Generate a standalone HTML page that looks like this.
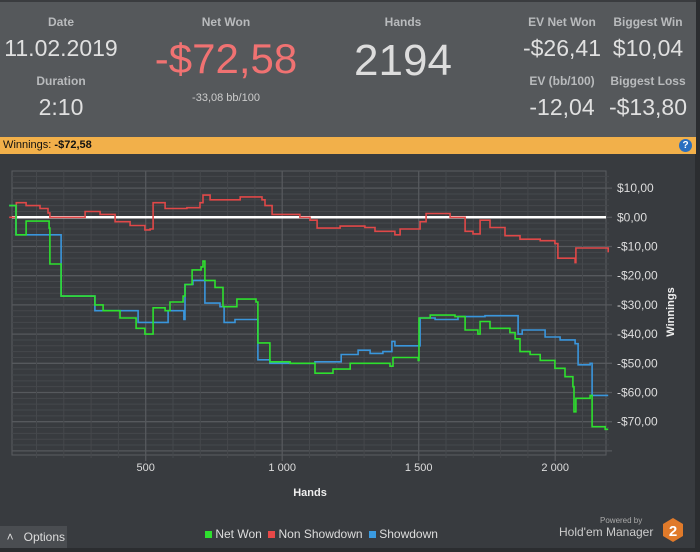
<!DOCTYPE html>
<html><head><meta charset="utf-8">
<style>
body{margin:0;width:700px;height:552px;background:#2b2d30;font-family:"Liberation Sans",sans-serif;overflow:hidden;position:relative}
.hdr{position:absolute;left:0;top:0;width:696px;height:137px;background:#55585b;border-top:2px solid #3a3c3f}
.t{position:absolute;text-align:center;color:#c8c8c8;white-space:nowrap}
.lab{font-size:12px;font-weight:bold;color:#b9bbbd}
.val{font-size:23px;color:#e0e0e0}
.bar{position:absolute;left:0;top:137px;width:696px;height:17px;background:#f2b04a;font-size:11px;color:#111;line-height:17px}
.chart{position:absolute;left:0;top:154px;width:695px;height:394px;background:#383b3f}
</style></head><body>
<div class="hdr">
<div class="t lab" style="left:21px;top:13px;width:80px">Date</div>
<div class="t val" style="left:1px;top:33px;width:120px">11.02.2019</div>
<div class="t lab" style="left:21px;top:72px;width:80px">Duration</div>
<div class="t val" style="left:21px;top:92px;width:80px">2:10</div>
<div class="t lab" style="left:176px;top:13px;width:100px">Net Won</div>
<div class="t" style="left:136px;top:33px;width:180px;font-size:42px;color:#f07272">-$72,58</div>
<div class="t" style="left:176px;top:90px;width:100px;font-size:11px;color:#ccc">-33,08 bb/100</div>
<div class="t lab" style="left:353px;top:13px;width:100px">Hands</div>
<div class="t" style="left:343px;top:34px;width:120px;font-size:44px;color:#ddd">2194</div>
<div class="t lab" style="left:522px;top:13px;width:80px">EV Net Won</div>
<div class="t val" style="left:522px;top:33px;width:80px">-$26,41</div>
<div class="t lab" style="left:608px;top:13px;width:80px">Biggest Win</div>
<div class="t val" style="left:608px;top:33px;width:80px">$10,04</div>
<div class="t lab" style="left:522px;top:72px;width:80px">EV (bb/100)</div>
<div class="t val" style="left:522px;top:92px;width:80px">-12,04</div>
<div class="t lab" style="left:603px;top:72px;width:90px">Biggest Loss</div>
<div class="t val" style="left:603px;top:92px;width:90px">-$13,80</div>
</div>
<div class="bar">&nbsp;Winnings: <b>-$72,58</b>
<span style="position:absolute;right:4px;top:2px;width:13px;height:13px;border-radius:50%;background:#2a6fc0;color:#fff;font-size:10px;line-height:13px;text-align:center;font-weight:bold">?</span></div>
<div class="chart"></div>
<svg id="svg" width="700" height="552" style="position:absolute;left:0;top:0"></svg>
<div style="position:absolute;left:0;top:526px;width:67px;height:22px;background:#4a4d51;color:#ddd;font-size:12px;line-height:22px">&nbsp;&nbsp;˄&nbsp;&nbsp;&nbsp;Options</div>
<div style="position:absolute;left:205px;top:527px;font-size:12px;color:#ddd;white-space:nowrap">
<span><span style="display:inline-block;width:7px;height:7px;background:#2ee02e"></span> Net Won</span>
<span><span style="display:inline-block;width:7px;height:7px;background:#e84848;margin-left:3px"></span> Non Showdown</span>
<span><span style="display:inline-block;width:7px;height:7px;background:#3a9ae0;margin-left:3px"></span> Showdown</span></div>
<div style="position:absolute;left:600px;top:516px;font-size:8px;color:#aaa">Powered by</div>
<div style="position:absolute;left:559px;top:525px;font-size:12px;color:#ccc">Hold'em Manager</div>
<svg style="position:absolute;left:662px;top:517px" width="22" height="26"><polygon points="11,1 21,7 21,19 11,25 1,19 1,7" fill="#e07a2a"/><text x="11" y="19" text-anchor="middle" fill="#fff" font-size="15" font-weight="bold" font-family="Liberation Sans">2</text></svg>
<script>
const yTicks=[10,0,-10,-20,-30,-40,-50,-60,-70];
const xTicks=[500,1000,1500,2000];
const netH=[0,14,25,62,146,149,190,296,314,344,406,465,497,527,571,589,637,644,670,703,710,717,754,783,834,904,911,955,1029,1120,1186,1249,1395,1406,1498,1501,1542,1633,1670,1717,1725,1761,1780,1834,1853,1871,1908,1945,1999,2036,2065,2069,2076,2128,2135,2183,2194];
const netV=[4,4,-6,-1.3,-3.7,-16,-27,-27,-30,-32,-34.5,-38,-40,-31,-32,-29,-27,-23,-18,-17,-15,-21.6,-24,-30.6,-28,-29,-43,-49.5,-50,-53.4,-52,-50,-51,-48,-49,-34.5,-33.5,-34,-38.6,-40,-35.7,-38,-38,-39.5,-41.6,-46,-47,-49,-51.7,-54.6,-58,-66.6,-62,-61,-71.7,-72.6,-72.6];
const sdH=[0,14,25,149,190,281,314,465,472,563,582,637,640,644,673,703,717,772,787,827,904,911,955,1120,1208,1216,1278,1322,1369,1402,1413,1498,1505,1560,1644,1743,1860,1864,1879,1956,1963,2018,2073,2084,2128,2135,2194];
const sdV=[4,4,-6,-6,-27,-27,-32,-32,-36,-36,-32,-32,-35,-23,-21.6,-21.6,-29.4,-30.6,-36,-35,-35,-48.8,-50,-49.5,-49.5,-47,-45.5,-46.6,-46,-42.5,-44,-44,-34.5,-35,-34,-33.7,-33.7,-40,-38.6,-38.6,-41,-42,-43.3,-50.5,-50,-61,-61];
const nsdH=[0,14,26,62,113,142,149,278,333,388,443,497,516,527,571,651,699,710,736,846,926,937,963,1065,1102,1128,1212,1303,1340,1413,1432,1498,1505,1527,1615,1651,1670,1699,1725,1761,1816,1871,1945,1999,2010,2073,2076,2128,2194];
const nsdV=[0,0,5,4,3,1.5,0,2,1,-1.5,-2.8,-4.3,-4,5,3,3.3,5,7.6,6,7,6,4,1,0,-1,-3.7,-3,-3.5,-4.8,-6,-4,-4,-1.5,1.3,0,0,-4.8,-5.7,-1,-3.5,-6.3,-7.5,-8,-9,-14,-15.5,-10.5,-10.5,-12];
const L=12,R=606,T=171,B=455;
const x=h=>9.2+h*0.273;
const y=v=>217.3-v*2.92;
const s=document.getElementById('svg');
const NS='http://www.w3.org/2000/svg';
function mk(tag,a){const e=document.createElementNS(NS,tag);for(const k in a)e.setAttribute(k,a[k]);s.appendChild(e);return e;}
let e=mk('rect',{x:L,y:T,width:R-L,height:B-T,fill:'none',stroke:'#5a5d61','stroke-width':1});


for(let v=-82;v<=14;v+=2){const yy=y(v);if(yy<T||yy>B)continue;const maj=v%10===0;
e=mk('line',{x1:L,x2:R+(maj?6:3),y1:yy,y2:yy,stroke:maj?'#56595d':'#45484c','stroke-width':maj?1.3:1});

}
for(let h=100;h<=2100;h+=100){const xx=x(h);const maj=h%500===0;
e=mk('line',{x1:xx,x2:xx,y1:T,y2:B+(maj?6:3),stroke:maj?'#56595d':'#45484c','stroke-width':maj?1.3:1});

}
yTicks.forEach(v=>{e=mk('text',{x:617,y:y(v)+4,fill:'#ddd','font-size':12,'font-family':'Liberation Sans'});e.textContent=(v<0?'-$':'$')+Math.abs(v)+',00';

});
xTicks.forEach(h=>{e=mk('text',{x:x(h),y:471,fill:'#ddd','font-size':11,'text-anchor':'middle','font-family':'Liberation Sans'});e.textContent=h>=1000?Math.floor(h/1000)+' '+String(h%1000).padStart(3,'0'):h;

});
e=mk('text',{x:310,y:496,fill:'#eee','font-size':11,'font-weight':'bold','text-anchor':'middle','font-family':'Liberation Sans'});e.textContent='Hands';


e=mk('text',{x:674,y:312,fill:'#eee','font-size':11,'font-weight':'bold','text-anchor':'middle','font-family':'Liberation Sans',transform:'rotate(-90 674 312)'});e.textContent='Winnings';


e=mk('line',{x1:L,x2:R,y1:y(0),y2:y(0),stroke:'#fff','stroke-width':2.5});


function series(H,V,col,name){let d='M'+x(H[0]).toFixed(1)+','+y(V[0]).toFixed(1);
for(let i=1;i<H.length;i++){d+=' H'+x(H[i]).toFixed(1)+' V'+y(V[i]).toFixed(1);}
const p=mk('path',{d:d,fill:'none',stroke:col,'stroke-width':1.6});

}
series(nsdH,nsdV,'#e04848','non-showdown-line');
series(sdH,sdV,'#3a96dc','showdown-line');
series(netH,netV,'#2ee02e','net-won-line');
</script>
</body></html>
